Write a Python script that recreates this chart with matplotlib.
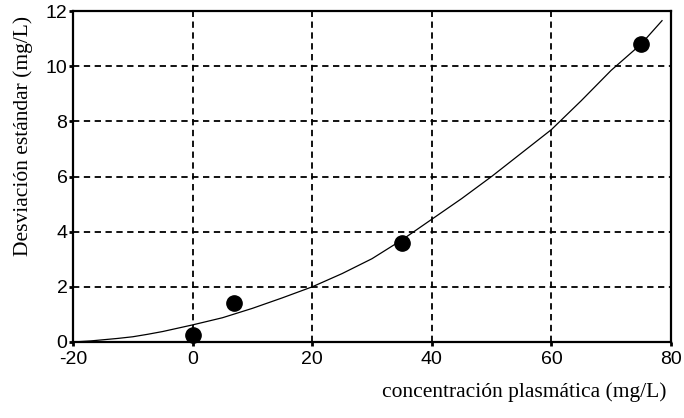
import matplotlib
matplotlib.use("Agg")
import matplotlib.pyplot as plt

# Measured data points
conc = [0, 7, 35, 75]
sd = [0.25, 1.4, 3.6, 10.8]

# Fitted trend curve (sampled values)
curve_x = [-20, -17, -15, -12.5, -10, -7.5, -5, -2.5, 0, 5, 10, 15, 20, 25, 30, 35, 40,
           45, 50, 55, 60, 65, 70, 75, 78.5]
curve_y = [0.0, 0.04, 0.08, 0.13, 0.19, 0.28, 0.38, 0.5, 0.62, 0.88, 1.22, 1.6, 2.0,
           2.48, 3.02, 3.7, 4.45, 5.2, 6.0, 6.85, 7.7, 8.75, 9.85, 10.8, 11.65]

xticks = [-20, 0, 20, 40, 60, 80]
yticks = [0, 2, 4, 6, 8, 10, 12]

fig = plt.figure(figsize=(6.84, 4.18), dpi=100)
ax = fig.add_axes([73 / 684, 1 - 342 / 418, (671 - 73) / 684, (342 - 11) / 418])

ax.plot(curve_x, curve_y, color="black", linewidth=0.9, zorder=3)
ax.plot(conc, sd, "o", color="black", markersize=11, zorder=4, clip_on=False)

ax.set_xlim(-20, 80)
ax.set_ylim(0, 12)
ax.set_xticks(xticks)
ax.set_yticks(yticks)
ax.set_xticklabels([str(v) for v in xticks], family="Liberation Sans", fontsize=14)
ax.set_yticklabels([str(v) for v in yticks], family="Liberation Sans", fontsize=14)
ax.tick_params(direction="out", length=3, width=2, color="black")
ax.tick_params(axis="x", pad=3.5)
ax.tick_params(axis="y", pad=1)

ax.grid(True, color="black", linestyle=(0, (3.5, 2.5)), linewidth=1.3)
ax.set_axisbelow(True)
for s in ax.spines.values():
    s.set_linewidth(1.6)
    s.set_color("black")

fig.text(23 / 684, 1 - 136 / 418, "Desviación estándar (mg/L)", rotation=90,
         ha="center", va="center", family="Liberation Serif", fontsize=15.5)
fig.text(667 / 684, 1 - 392 / 418, "concentración plasmática (mg/L)",
         ha="right", va="center", family="Liberation Serif", fontsize=15.5)

fig.savefig("out.png", dpi=100, facecolor="white")
